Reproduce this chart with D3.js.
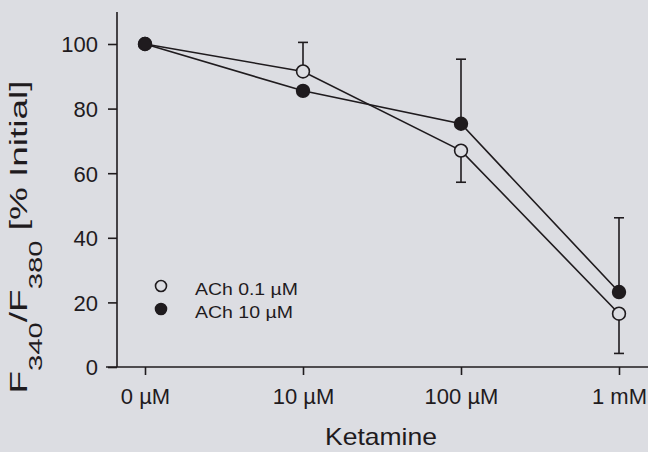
<!DOCTYPE html>
<html>
<head>
<meta charset="utf-8">
<script src="https://cdn.jsdelivr.net/npm/d3@7"></script>
<style>
    body { margin: 0; background: #dcdde2; }
    svg { display: block; font-family: "Liberation Sans", Arial, sans-serif; }
</style>
</head>
<body>
<svg id="chart" width="648" height="452"></svg>
<script>
// categories on x axis
var doses = ["0 \u00B5M", "10 \u00B5M", "100 \u00B5M", "1 mM"];
var yTicks = [0, 20, 40, 60, 80, 100];

// ACh 0.1 uM (open circles)
var lowAch = [100, 91.5, 67, 16.5];
var lowAchErrUp = [0, 9, 0, 0];
var lowAchErrDown = [0, 0, 9.8, 12.3];

// ACh 10 uM (filled circles)
var highAch = [100, 85.5, 75.3, 23.2];
var highAchErrUp = [0, 0, 20, 23];
var highAchErrDown = [0, 0, 0, 0];

var ink = "#1f1b1e";
var bg = "#dcdde2";

var svg = d3.select("#chart");
svg.append("rect").attr("width", 648).attr("height", 452).attr("fill", bg);

// the scanned figure sets its labels a bit wider than Arial, so stretch them
var stretch = function (sel, width, x, y, rot) {
    var w = sel.node().getComputedTextLength();
    sel.attr("transform", "translate(" + x + "," + y + ")" + (rot ? " rotate(" + rot + ")" : "") +
        " scale(" + (width / w) + ",1)");
};

// scales
var x = d3.scalePoint()
    .domain(doses)
    .range([145, 619]);
var y = d3.scaleLinear()
    .domain([0, 100])
    .range([367, 44]);

// axes
var yAxis = svg.append("g")
    .attr("transform", "translate(117,0)")
    .call(d3.axisLeft(y).tickValues(yTicks).tickSize(9).tickPadding(10));
yAxis.select(".domain").remove();
yAxis.append("line")
    .attr("x1", 0).attr("x2", 0)
    .attr("y1", 12).attr("y2", 367)
    .attr("stroke", ink).attr("stroke-width", 1.6);

var xAxis = svg.append("g")
    .attr("transform", "translate(0,367)")
    .call(d3.axisBottom(x).tickSize(8).tickPadding(13));
xAxis.select(".domain").remove();
xAxis.append("line")
    .attr("x1", 106).attr("x2", 648)
    .attr("y1", 0).attr("y2", 0)
    .attr("stroke", ink).attr("stroke-width", 1.6);

svg.selectAll(".tick line").attr("stroke", ink).attr("stroke-width", 1.6);
svg.selectAll(".tick text")
    .attr("fill", ink)
    .attr("font-size", 22)
    .attr("font-family", "Liberation Sans, Arial, sans-serif");
yAxis.selectAll(".tick text").attr("dy", "0.36em");

// axis titles
var xlab = svg.append("text")
    .attr("text-anchor", "middle")
    .attr("font-size", 23)
    .attr("fill", ink)
    .text("Ketamine");
stretch(xlab, 112, 381, 445);

var ylab = svg.append("text")
    .attr("text-anchor", "middle")
    .attr("font-size", 24)
    .attr("fill", ink);
ylab.append("tspan").text("F");
ylab.append("tspan").attr("font-size", 19).attr("dy", 15).text("340");
ylab.append("tspan").attr("dy", -15).text("/F");
ylab.append("tspan").attr("font-size", 19).attr("dy", 15).text("380");
ylab.append("tspan").attr("dy", -15).text(" [% Initial]");
stretch(ylab, 313, 27, 237, -90);

var series = [
    { name: "ACh 0.1 \u00B5M", values: lowAch, up: lowAchErrUp, down: lowAchErrDown, fill: bg },
    { name: "ACh 10 \u00B5M", values: highAch, up: highAchErrUp, down: highAchErrDown, fill: ink }
];

var line = d3.line()
    .x(function (d, i) { return x(doses[i]); })
    .y(function (d) { return y(d); });

// error bars
series.forEach(function (s) {
    var g = svg.append("g");
    s.values.forEach(function (v, i) {
        var cx = x(doses[i]);
        [[s.up[i], 1], [s.down[i], -1]].forEach(function (e) {
            if (e[0] <= 0) { return; }
            var end = y(v + e[1] * e[0]);
            g.append("line")
                .attr("x1", cx).attr("x2", cx)
                .attr("y1", y(v)).attr("y2", end)
                .attr("stroke", ink).attr("stroke-width", 1.6);
            g.append("line")
                .attr("x1", cx - 5).attr("x2", cx + 5)
                .attr("y1", end).attr("y2", end)
                .attr("stroke", ink).attr("stroke-width", 1.6);
        });
    });
});

// lines
series.forEach(function (s) {
    svg.append("path")
        .datum(s.values)
        .attr("d", line)
        .attr("fill", "none")
        .attr("stroke", ink)
        .attr("stroke-width", 1.6);
});

// markers
series.forEach(function (s) {
    svg.selectAll(null)
        .data(s.values)
        .enter()
        .append("circle")
        .attr("cx", function (d, i) { return x(doses[i]); })
        .attr("cy", function (d) { return y(d); })
        .attr("r", 6.4)
        .attr("fill", s.fill)
        .attr("stroke", ink)
        .attr("stroke-width", 1.6);
});

// legend
var legend = svg.append("g");
var legendWidths = [103, 98];
series.forEach(function (s, i) {
    var ly = 286 + i * 23;
    legend.append("circle")
        .attr("cx", 161).attr("cy", ly)
        .attr("r", 5.5)
        .attr("fill", s.fill)
        .attr("stroke", ink)
        .attr("stroke-width", 1.6);
    var t = legend.append("text")
        .attr("font-size", 16)
        .attr("fill", ink)
        .text(s.name);
    stretch(t, legendWidths[i], 195, ly + 9);
});
</script>
</body>
</html>
